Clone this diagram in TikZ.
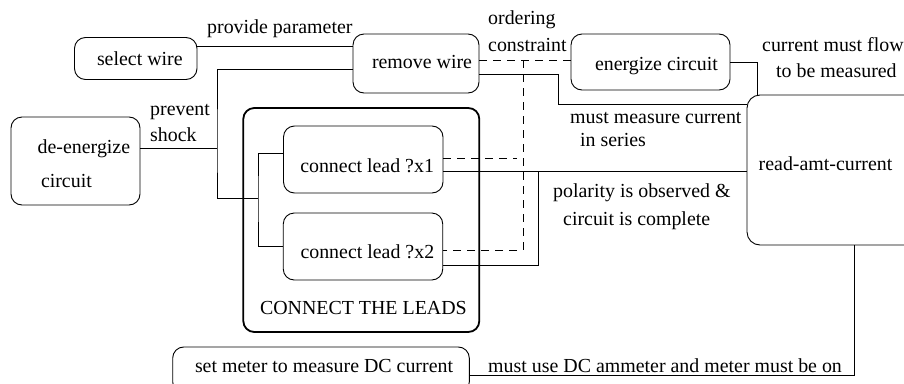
\documentclass[tikz,border=0pt]{standalone}
\usepackage{fontspec}
\setmainfont{Liberation Serif}
\newcommand{\lbl}[3]{\makebox[0pt][l]{\hspace*{#1pt}\raisebox{#2pt}[0pt][0pt]{#3}}}
\tikzset{
  box/.style={draw=black,line width=0.9pt,rounded corners=11pt,inner sep=0pt,outer sep=0pt},
  groupbox/.style={box,line width=1.8pt},
  conn/.style={draw=black,line width=0.9pt},
  dashconn/.style={conn,dash pattern=on 8pt off 6pt},
  note/.style={inner sep=0pt,anchor=base west}
}
\begin{document}
\begin{tikzpicture}[x=1pt,y=-1pt,font=\fontsize{19.9}{23}\selectfont]
\path[use as bounding box,clip] (0,0) rectangle (904,383);
\fill[white] (0,0) rectangle (904,383);
% boxes
\node[groupbox,minimum width=236pt,minimum height=224pt] (grp) at (361.3,220) {\lbl{-101.3}{-94}{CONNECT THE LEADS}};
\node[box,minimum width=122.5pt,minimum height=42pt] (sw) at (135.75,58.5) {\lbl{-38.75}{-6.5}{select wire}};
\node[box,minimum width=126pt,minimum height=59pt] (rw) at (416,63.5) {\lbl{-44}{-4.5}{remove wire}};
\node[box,minimum width=159pt,minimum height=56pt] (ec) at (650.5,62) {\lbl{-55.5}{-8}{energize circuit}};
\node[box,minimum width=129pt,minimum height=88pt] (de) at (75.5,161) {\lbl{-37.8}{8}{de-energize}\lbl{-34.5}{-26}{circuit}};
\node[box,minimum width=159.5pt,minimum height=67pt] (xa) at (363.25,159.5) {\lbl{-63}{-12.5}{connect lead ?x1}};
\node[box,minimum width=159.5pt,minimum height=67pt] (xb) at (363,246.5) {\lbl{-62.5}{-11.5}{connect lead ?x2}};
\node[box,rounded corners=13pt,minimum width=183pt,minimum height=150pt] (ra) at (838.5,170) {\lbl{-79.8}{0}{read-amt-current}};
\node[box,minimum width=296.6pt,minimum height=46pt] (sm) at (321,370) {\lbl{-126}{-2}{set meter to measure DC current}};
% junction points
\coordinate (ja) at (217,148);
\coordinate (jb) at (258,198);
\coordinate (jc) at (517,158);
\coordinate (jd) at (538,171);
% connectors
\draw[conn] ([yshift=12.5pt]sw.east) -- ([yshift=17.5pt]rw.west);
\draw[conn] ([yshift=-5.5pt]rw.west) -| (ja) |- (jb);
\draw[conn] ([yshift=13pt]de.east) -- (ja);
\draw[conn] ([yshift=6.5pt]xa.west) -| (jb) |- (xb.west);
\draw[dashconn] ([yshift=3.5pt]rw.east) -- ([yshift=2pt]ec.west);
\draw[dashconn] (523,60) -- (523,250) -- ([yshift=-3.5pt]xb.east);
\draw[dashconn] ([yshift=1.5pt]xa.east) -- (jc);
\draw[conn] ([yshift=-10.5pt]rw.east) -- (558,74) -- (558,104) -- ([yshift=66pt]ra.west);
\draw[conn] (ec.east) -- (757,62) -- (757,95);
\draw[conn] ([yshift=-11.5pt]xa.east) -- ([yshift=-1pt]ra.west);
\draw[conn] (jd) |- ([yshift=-18.5pt]xb.east);
\draw[conn] ([yshift=-5pt]sm.east) -| (854,245);
% labels
\node[note] (la) at (207,33) {provide parameter};
\node[note] (lb) at (150,115) {prevent};
\node[note] (lc) at (150,141) {shock};
\node[note] (ld) at (488,24) {ordering};
\node[note] (le) at (488,51) {constraint};
\node[note] (lf) at (762,51) {current must flow};
\node[note] (lg) at (776,77) {to be measured};
\node[note] (lh) at (570,123) {must measure current};
\node[note] (li) at (580,146) {in series};
\node[note] (lj) at (553,197) {polarity is observed \&};
\node[note] (lk) at (563,225) {circuit is complete};
\node[note] (ll) at (488,372) {must use DC ammeter and meter must be on};
\end{tikzpicture}
\end{document}
